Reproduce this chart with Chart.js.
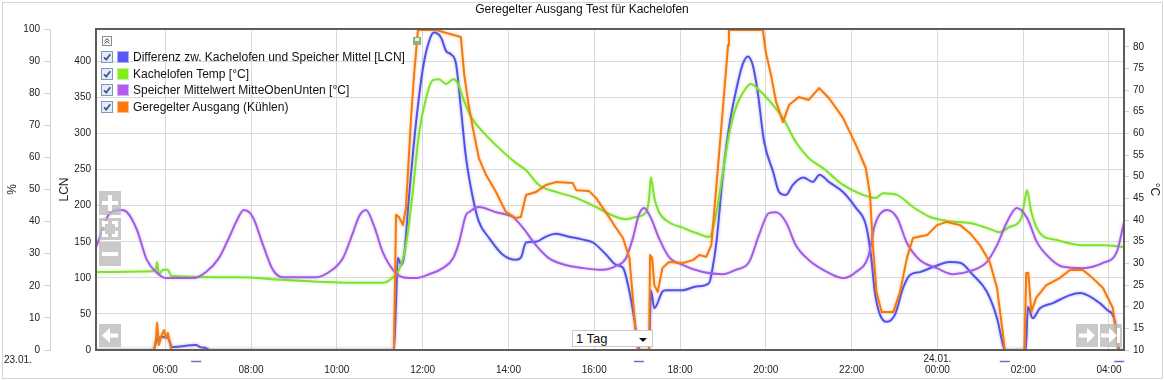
<!DOCTYPE html>
<html>
<head>
<meta charset="utf-8">
<title>Geregelter Ausgang Test für Kachelofen</title>
<script src="https://cdn.jsdelivr.net/npm/chart.js@4.4.1/dist/chart.umd.min.js"></script>
<style>
  html, body { margin:0; padding:0; background:#fff; }
  #wrap { position:relative; width:1164px; height:380px; overflow:hidden; }
  #chart { position:absolute; left:0; top:0; }
  .lgt { position:absolute; font:12px "Liberation Sans", Arial, sans-serif; color:#111; white-space:nowrap; line-height:16px; height:16px; }
  .cb { position:absolute; width:12px; height:12px; }
  .sw { position:absolute; width:12px; height:12px; box-sizing:border-box; border:1px solid rgba(255,255,255,0.5); }
  #sel { position:absolute; left:572px; top:330px; width:81px; height:17px; box-sizing:border-box; border:1px solid #c8c8c8; background:#fff;
         font:13px "Liberation Sans", Arial, sans-serif; color:#111; line-height:15px; padding-left:3px; }
  #sel .arr { position:absolute; right:5px; top:7px; width:0; height:0; border-left:4px solid transparent; border-right:4px solid transparent; border-top:4px solid #111; }
</style>
</head>
<body>
<div id="wrap">
  <canvas id="chart" width="1164" height="380"></canvas>
  <div id="legend"></div>
  <div id="sel">1 Tag<span class="arr"></span></div>
</div>
<script>
// ---------------- data (hours since 23.01. 00:00) ----------------
const chartTitle = 'Geregelter Ausgang Test für Kachelofen';
const seriesNames = [
  'Differenz zw. Kachelofen und Speicher Mittel [LCN]',
  'Kachelofen Temp [°C]',
  'Speicher Mittelwert MitteObenUnten [°C]',
  'Geregelter Ausgang (Kühlen)'
];

const diffTimes = [
  4.39, 5.71, 5.81, 5.92, 6.06, 6.16, 6.72, 6.81, 6.93, 7.04,
  11.33, 11.38, 11.42, 11.50, 11.57, 11.68, 11.84, 12.01, 12.15, 12.26,
  12.43, 12.55, 12.66, 12.78, 12.89, 13.01, 13.17, 13.31, 13.54, 13.87,
  14.17, 14.29, 14.41, 14.64, 14.87, 15.11, 15.41, 15.74, 15.97, 16.28,
  16.51, 16.67, 16.82, 16.93, 17.02, 17.06, 17.28, 17.32, 17.40, 17.59,
  17.67, 18.07, 18.38, 18.68, 18.76, 18.85, 19.00, 19.14, 19.30, 19.46,
  19.58, 19.69, 19.81, 19.96, 20.17, 20.31, 20.47, 20.63, 20.87, 21.10,
  21.25, 21.47, 21.80, 22.10, 22.33, 22.45, 22.54, 22.66, 22.82, 23.01,
  23.20, 23.36, 23.59, 23.90, 24.29, 24.53, 24.83, 25.15, 25.39, 25.53,
  25.57, 26.06, 26.11, 26.22, 26.39, 26.69, 27.09, 27.32, 27.62, 27.95,
  28.14, 28.21, 28.26, 28.35
];
const diffValues = [
  0, 0, 14, 18, 17, 4, 7, 4, 3, 0,
  0, 67, 128, 118, 132, 211, 312, 392, 428, 440,
  433, 414, 410, 396, 336, 267, 211, 178, 156, 132,
  125, 128, 149, 150, 157, 161, 157, 153, 149, 132,
  118, 114, 81, 44, 7, 0, 0, 83, 58, 81,
  83, 83, 88, 93, 114, 150, 243, 308, 358, 396,
  407, 396, 358, 289, 247, 219, 215, 229, 239, 233,
  243, 233, 219, 197, 174, 132, 81, 49, 39, 49,
  86, 104, 108, 115, 122, 121, 104, 81, 44, 7,
  0, 0, 60, 44, 58, 65, 76, 79, 72, 56,
  39, 7, 0, 0
];

const ofenTimes = [
  4.39, 5.71, 5.78, 5.81, 5.85, 5.95, 6.06, 6.14, 7.72, 8.74,
  10.45, 11.07, 11.31, 11.45, 11.61, 11.77, 11.91, 12.08, 12.24, 12.38,
  12.55, 12.71, 12.82, 12.94, 13.13, 13.41, 13.78, 14.17, 14.41, 14.71,
  15.11, 15.58, 16.04, 16.51, 16.74, 16.97, 17.21, 17.28, 17.32, 17.40,
  17.51, 17.74, 18.07, 18.38, 18.68, 18.85, 19.00, 19.14, 19.30, 19.46,
  19.65, 19.84, 20.07, 20.40, 20.70, 21.00, 21.33, 21.80, 22.26, 22.57,
  22.73, 23.06, 23.43, 23.83, 24.22, 24.76, 25.15, 25.45, 25.68, 25.96,
  26.03, 26.09, 26.19, 26.39, 26.78, 27.39, 27.86, 28.35
];
const ofenValues = [
  28.0, 28.2, 28.5, 30.3, 27.5, 28.5, 28.5, 27.1, 26.8, 26.2,
  25.5, 25.5, 26.8, 28.5, 34.2, 46.5, 59.6, 68.2, 72.3, 72.5,
  71.4, 72.5, 71.6, 68.2, 63.8, 60.3, 56.6, 53.2, 51.5, 48.1,
  46.5, 45.1, 43.0, 40.7, 40.2, 40.7, 41.8, 45.1, 49.9, 45.1,
  41.8, 39.5, 38.2, 37.0, 36.1, 41.8, 51.1, 59.6, 65.9, 69.3,
  71.4, 70.0, 67.7, 63.5, 58.0, 54.3, 52.0, 48.1, 45.8, 45.1,
  46.2, 45.8, 43.0, 40.7, 39.8, 39.3, 38.2, 37.2, 38.4, 40.5,
  44.2, 46.9, 41.8, 37.0, 35.4, 34.2, 34.2, 33.8
];

const speicherTimes = [
  4.39, 4.71, 4.97, 5.11, 5.34, 5.57, 5.81, 6.02, 6.65, 6.95,
  7.25, 7.48, 7.65, 7.83, 8.04, 8.28, 8.51, 8.74, 9.51, 9.82,
  10.14, 10.38, 10.52, 10.68, 10.86, 11.07, 11.31, 11.54, 11.84, 12.15,
  12.47, 12.71, 12.85, 13.01, 13.08, 13.31, 13.71, 14.10, 14.34, 14.64,
  14.94, 15.27, 15.74, 16.20, 16.51, 16.74, 16.90, 17.04, 17.16, 17.32,
  17.51, 17.74, 18.07, 18.53, 19.00, 19.30, 19.61, 19.84, 20.07, 20.24,
  20.47, 20.70, 21.00, 21.47, 21.80, 22.10, 22.40, 22.54, 22.82, 23.06,
  23.29, 23.59, 23.99, 24.36, 24.76, 25.15, 25.39, 25.62, 25.85, 26.09,
  26.32, 26.62, 26.93, 27.39, 27.86, 28.18, 28.35
];
const speicherValues = [
  33.8, 41.6, 42.3, 41.8, 37.7, 30.8, 27.8, 26.6, 26.6, 28.0,
  31.2, 35.8, 39.5, 42.3, 40.7, 34.2, 28.5, 26.8, 26.8, 28.0,
  31.2, 37.2, 40.9, 42.3, 38.8, 32.6, 28.5, 26.8, 26.6, 27.5,
  28.9, 31.2, 34.9, 41.2, 41.8, 43.0, 41.8, 40.7, 38.2, 34.2,
  31.2, 29.8, 28.9, 28.5, 29.4, 31.2, 35.8, 41.2, 42.8, 40.5,
  35.8, 31.5, 29.6, 28.0, 27.5, 28.5, 30.3, 36.5, 41.6, 41.8,
  39.5, 34.2, 30.8, 27.8, 26.6, 28.0, 31.9, 38.8, 42.3, 40.5,
  34.7, 30.8, 28.9, 27.5, 28.2, 30.3, 34.2, 39.5, 42.8, 40.5,
  34.9, 31.2, 29.2, 28.9, 30.1, 32.6, 39.5
];

const ausgangTimes = [
  4.39, 5.74, 5.78, 5.81, 5.85, 5.92, 5.97, 6.02, 6.06, 6.14,
  11.33, 11.38, 11.45, 11.54, 11.61, 11.73, 11.80, 11.89, 12.31, 12.89,
  12.97, 13.06, 13.17, 13.31, 13.48, 13.71, 13.94, 14.17, 14.29, 14.41,
  14.64, 14.87, 15.11, 15.50, 15.58, 15.88, 16.04, 16.28, 16.51, 16.67,
  16.82, 16.90, 16.97, 17.02, 17.28, 17.30, 17.35, 17.40, 17.48, 17.59,
  17.74, 18.07, 18.30, 18.45, 18.61, 18.73, 18.85, 19.00, 19.12, 19.14,
  19.93, 20.00, 20.12, 20.24, 20.40, 20.54, 20.77, 21.00, 21.24, 21.47,
  21.80, 22.10, 22.33, 22.43, 22.49, 22.58, 22.70, 22.97, 23.13, 23.29,
  23.43, 23.76, 23.99, 24.22, 24.53, 24.76, 24.99, 25.22, 25.39, 25.53,
  25.57, 26.03, 26.07, 26.12, 26.19, 26.30, 26.54, 26.85, 27.09, 27.39,
  27.62, 27.86, 28.09, 28.18, 28.21, 28.35
];
const ausgangValues = [
  0, 0, 3.1, 8.4, 1.6, 4.7, 6.2, 3.7, 5.3, 0,
  0, 42.1, 41.4, 38.9, 44.2, 72.3, 85.7, 99.7, 99.7, 97.5,
  85.7, 77.3, 69.2, 59.8, 54.5, 49.2, 43.0, 41.1, 41.4, 48.3,
  49.2, 51.4, 52.3, 52.0, 49.8, 49.5, 47.4, 42.7, 38.0, 34.9,
  28.7, 16.2, 4.7, 0, 0, 29.6, 28.7, 20.2, 18.1, 25.5,
  27.4, 27.1, 28.0, 29.6, 29.0, 32.7, 51.4, 75.4, 95.0, 99.7,
  99.7, 92.8, 85.7, 77.3, 71.0, 76.3, 78.8, 77.9, 81.6, 78.5,
  72.3, 63.9, 56.7, 48.3, 33.6, 18.1, 11.8, 11.8, 18.1, 28.7,
  34.9, 35.8, 38.9, 39.9, 38.9, 36.4, 32.7, 27.4, 19.3, 4.7,
  0, 0, 24.0, 24.0, 11.8, 16.2, 20.2, 22.4, 24.9, 24.9,
  22.4, 19.3, 13.1, 3.7, 0, 0
];

// axis ranges and tick labels
const xRange = [4.385, 28.35];
const xTickHours  = [6, 8, 10, 12, 14, 16, 18, 20, 22, 24, 26, 28];
const xTickLabels = ['06:00','08:00','10:00','12:00','14:00','16:00','18:00','20:00','22:00','00:00','02:00','04:00'];
const xTickDates  = ['', '', '', '', '', '', '', '', '', '24.01.', '', ''];
const startDateLabel = '23.01.';
const pctTicks  = [0, 10, 20, 30, 40, 50, 60, 70, 80, 90, 100];
const lcnTicks  = [0, 50, 100, 150, 200, 250, 300, 350, 400];
const tempTicks = [10, 15, 20, 25, 30, 35, 40, 45, 50, 55, 60, 65, 70, 75, 80];
const pctRange  = [0, 100];
const lcnRange  = [0, 445];
const tempRange = [10, 84.1];
const markerTimes = [6.72, 17.04, 25.57, 28.24];
const flagTime = 11.87;

// ---------------- styling ----------------
const FONT = '"Liberation Sans", Arial, sans-serif';
const lineColors   = ['#5252e8', '#7fe22c', '#a35de4', '#f6790e'];
const swatchColors = ['#5a5af2', '#80ee1e', '#b25cf0', '#ff790a'];
const glowColors   = ['rgba(82,82,232,0.45)', 'rgba(127,226,44,0.45)', 'rgba(163,93,228,0.45)', 'rgba(246,121,14,0.45)'];

// ---------------- legend (HTML) ----------------
(function buildLegend() {
  const lg = document.getElementById('legend');
  let html = '<svg style="position:absolute;left:102px;top:36px" width="10" height="10">' +
    '<rect x="0.5" y="0.5" width="9" height="9" fill="#fff" stroke="#8c8c8c"/>' +
    '<path d="M2.5 5 L5 2.7 L7.5 5 M2.5 7.6 L5 5.3 L7.5 7.6" fill="none" stroke="#444" stroke-width="1"/></svg>';
  seriesNames.forEach((name, i) => {
    const top = 49 + i * 16.5;
    html += '<svg class="cb" style="left:101px;top:' + (top + 2) + 'px" width="12" height="12">' +
      '<rect x="0.5" y="0.5" width="11" height="11" fill="#e6ecf7" stroke="#8496b8"/>' +
      '<path d="M3 6.2 L5.2 8.6 L9.3 3.2" fill="none" stroke="#3b5594" stroke-width="1.7"/></svg>';
    html += '<div class="sw" style="left:117px;top:' + (top + 2) + 'px;background:' + swatchColors[i] + '"></div>';
    html += '<div class="lgt" style="left:133px;top:' + top + 'px">' + name + '</div>';
  });
  lg.innerHTML = html;
})();

const mk = (ts, vs) => ts.map((t, i) => ({ x: t, y: vs[i] }));

const overlay = {
  id: 'overlay',
  beforeDatasetDraw(chart, args) {
    const ctx = chart.ctx;
    ctx.save();
    ctx.shadowColor = chart.data.datasets[args.index].glow;
    ctx.shadowBlur = 3;
  },
  afterDatasetDraw(chart) { chart.ctx.restore(); },
  afterDraw(chart) {
    const { ctx, chartArea: a, scales } = chart;
    ctx.save();
    // plot frame
    ctx.strokeStyle = '#5c5c5c';
    ctx.lineWidth = 2;
    ctx.strokeRect(a.left, a.top, a.right - a.left, a.bottom - a.top);
    // outer border
    ctx.strokeStyle = '#d4d4d4';
    ctx.lineWidth = 1;
    ctx.strokeRect(2.5, 2.5, chart.width - 4, chart.height - 4);
    // start date label
    ctx.fillStyle = '#222';
    ctx.font = '10px ' + FONT;
    ctx.textBaseline = 'middle';
    ctx.textAlign = 'left';
    ctx.fillText(startDateLabel, 4, a.bottom + 10);
    // small event markers below axis
    ctx.strokeStyle = '#6a6ad8';
    ctx.lineWidth = 1.5;
    markerTimes.forEach(t => {
      const x = scales.x.getPixelForValue(t);
      ctx.beginPath(); ctx.moveTo(x - 5, a.bottom + 11.5); ctx.lineTo(x + 5, a.bottom + 11.5); ctx.stroke();
    });
    // small flag icon
    const fx = scales.x.getPixelForValue(flagTime);
    ctx.fillStyle = '#8fb07a'; ctx.fillRect(fx - 4, a.top + 8, 8, 8);
    ctx.fillStyle = '#e8f2e0'; ctx.fillRect(fx - 2, a.top + 9, 4, 3);
    // navigation buttons
    const btn = (x, y, w, h) => { ctx.fillStyle = 'rgba(186,186,186,0.78)'; ctx.fillRect(x, y, w, h); };
    const L = a.left + 3;
    // plus
    let y = a.top + 162;
    btn(L, y, 22, 24); ctx.fillStyle = '#fff';
    ctx.fillRect(L + 3, y + 10, 16, 4); ctx.fillRect(L + 9, y + 4, 4, 16);
    // fullscreen
    y = a.top + 189;
    btn(L, y, 22, 22); ctx.fillStyle = '#fff';
    ctx.fillRect(L + 3, y + 3, 6, 3); ctx.fillRect(L + 3, y + 3, 3, 6);
    ctx.fillRect(L + 13, y + 3, 6, 3); ctx.fillRect(L + 16, y + 3, 3, 6);
    ctx.fillRect(L + 3, y + 16, 6, 3); ctx.fillRect(L + 3, y + 13, 3, 6);
    ctx.fillRect(L + 13, y + 16, 6, 3); ctx.fillRect(L + 16, y + 13, 3, 6);
    // minus
    y = a.top + 213;
    btn(L, y, 22, 24); ctx.fillStyle = '#fff';
    ctx.fillRect(L + 3, y + 10, 16, 4);
    // arrows
    const arrow = (x, y, dir) => {
      ctx.fillStyle = '#fff';
      ctx.beginPath();
      if (dir < 0) {
        ctx.moveTo(x + 3, y + 11.5); ctx.lineTo(x + 11, y + 4); ctx.lineTo(x + 11, y + 9.5);
        ctx.lineTo(x + 19, y + 9.5); ctx.lineTo(x + 19, y + 13.5); ctx.lineTo(x + 11, y + 13.5); ctx.lineTo(x + 11, y + 19);
      } else {
        ctx.moveTo(x + 19, y + 11.5); ctx.lineTo(x + 11, y + 4); ctx.lineTo(x + 11, y + 9.5);
        ctx.lineTo(x + 3, y + 9.5); ctx.lineTo(x + 3, y + 13.5); ctx.lineTo(x + 11, y + 13.5); ctx.lineTo(x + 11, y + 19);
      }
      ctx.closePath(); ctx.fill();
    };
    y = a.bottom - 26;
    btn(L, y, 22, 23); arrow(L, y, -1);
    const R1 = a.right - 48, R2 = a.right - 24;
    btn(R1, y, 22, 23); arrow(R1, y, 1);
    btn(R2, y, 22, 23); arrow(R2 - 2, y, 1);
    ctx.fillStyle = '#fff'; ctx.fillRect(R2 + 17, y + 4, 3, 15);
    ctx.restore();
  }
};

const setTicks = (arr) => (s) => { s.ticks = arr.map(v => ({ value: v })); };

new Chart(document.getElementById('chart'), {
  type: 'line',
  data: {
    datasets: [
      { label: seriesNames[0], data: mk(diffTimes, diffValues), yAxisID: 'yLcn', borderColor: lineColors[0], glow: glowColors[0], order: 3, cubicInterpolationMode: 'monotone' },
      { label: seriesNames[1], data: mk(ofenTimes, ofenValues), yAxisID: 'yTemp', borderColor: lineColors[1], glow: glowColors[1], order: 2, cubicInterpolationMode: 'monotone' },
      { label: seriesNames[2], data: mk(speicherTimes, speicherValues), yAxisID: 'yTemp', borderColor: lineColors[2], glow: glowColors[2], order: 1, cubicInterpolationMode: 'monotone' },
      { label: seriesNames[3], data: mk(ausgangTimes, ausgangValues), yAxisID: 'yPct', borderColor: lineColors[3], glow: glowColors[3], order: 0 }
    ]
  },
  options: {
    responsive: false,
    animation: false,
    devicePixelRatio: 1,
    parsing: false,
    layout: { padding: 0 },
    elements: {
      line: { borderWidth: 2, tension: 0, fill: false, borderJoinStyle: 'round' },
      point: { radius: 0, hoverRadius: 0 }
    },
    plugins: {
      legend: { display: false },
      tooltip: { enabled: false },
      title: {
        display: true, text: chartTitle, color: '#111',
        font: { family: FONT, size: 12, weight: 'normal' },
        padding: { top: 2, bottom: 12.6 }
      }
    },
    scales: {
      x: {
        type: 'linear', position: 'bottom', min: xRange[0], max: xRange[1],
        afterBuildTicks: setTicks(xTickHours),
        afterFit: (s) => { s.height = 30; },
        ticks: {
          autoSkip: false, maxRotation: 0, padding: 4, color: '#222',
          font: { family: FONT, size: 10, lineHeight: 1.1 },
          callback: (v) => { const i = xTickHours.indexOf(v); return [xTickDates[i], xTickLabels[i]]; }
        },
        grid: { color: '#dadada', drawTicks: false },
        border: { display: false }
      },
      yPct: {
        type: 'linear', position: 'left', weight: 2, min: pctRange[0], max: pctRange[1],
        afterBuildTicks: setTicks(pctTicks),
        afterFit: (s) => { s.width = 50; },
        ticks: { padding: 4, color: '#222', font: { family: FONT, size: 10 } },
        grid: { drawOnChartArea: false, drawTicks: true, tickLength: 6, color: '#d0d0d0' },
        border: { display: true, color: '#d0d0d0' },
        title: { display: true, text: '%', color: '#222', font: { family: FONT, size: 12 }, padding: { top: 5, bottom: 0 } }
      },
      yLcn: {
        type: 'linear', position: 'left', weight: 1, min: lcnRange[0], max: lcnRange[1],
        afterBuildTicks: setTicks(lcnTicks),
        afterFit: (s) => { s.width = 46; },
        ticks: { padding: 5, color: '#222', font: { family: FONT, size: 10 } },
        grid: { drawOnChartArea: true, drawTicks: false, color: '#dadada' },
        border: { display: false },
        title: { display: true, text: 'LCN', color: '#222', font: { family: FONT, size: 12 }, padding: { top: 7, bottom: 0 } }
      },
      yTemp: {
        type: 'linear', position: 'right', min: tempRange[0], max: tempRange[1],
        afterBuildTicks: setTicks(tempTicks),
        afterFit: (s) => { s.width = 40; },
        ticks: { padding: 4, color: '#222', font: { family: FONT, size: 10 } },
        grid: { drawOnChartArea: false, drawTicks: true, tickLength: 5, color: '#d0d0d0' },
        border: { display: false },
        title: { display: true, text: '°C', color: '#222', font: { family: FONT, size: 12 }, padding: { top: 2, bottom: 0 } }
      }
    }
  },
  plugins: [overlay]
});
</script>
</body>
</html>
